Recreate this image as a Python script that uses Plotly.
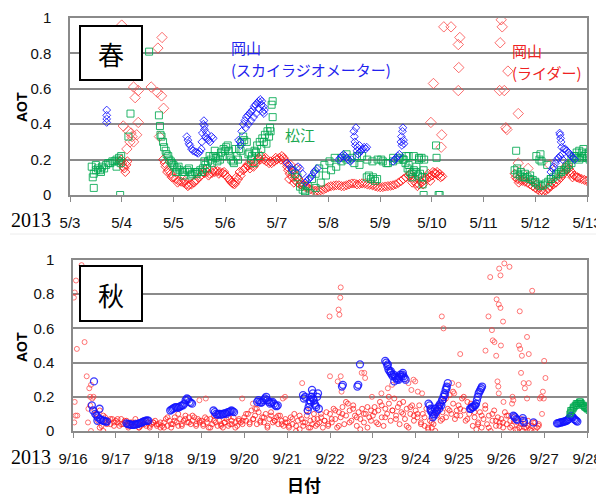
import plotly.graph_objects as go

# page body has an 8px margin, so the figure is sized to fill the rest of the 604x502 window
OFF = 8
W, H = 604 - OFF, 502 - OFF

# ================= DATA =================
# ---------- Spring 2013 (x = days since 5/3 00:00) ----------
spr_ticktext = ["5/3", "5/4", "5/5", "5/6", "5/7", "5/8", "5/9", "5/10", "5/11", "5/12", "5/13"]
spr_tickvals = list(range(11))

# Okayama lidar (red) - main band, 0.05-day cadence from day 1.80
spr_lidar_main_start = 1.80
spr_lidar_main = [
    0.20, 0.16, 0.14, 0.12, 0.10, 0.09, 0.08, 0.075, 0.07, 0.06,
    0.057, 0.06, 0.07, 0.085, 0.10, 0.115, 0.125, 0.13, 0.12, 0.125,
    0.13, 0.135, 0.13, 0.125, 0.115, 0.10, 0.08, 0.065, 0.07, 0.09,
    0.11, 0.14, 0.155, 0.165, 0.17, 0.16, 0.18, 0.21, 0.22, 0.20,
    0.19, 0.18, 0.18, 0.19, 0.20, 0.21, 0.22, 0.20, 0.16, 0.12,
    0.10, 0.085, 0.07, 0.06, 0.05, 0.045, 0.04, 0.032, 0.028, 0.025,
    0.025, 0.027, 0.03, 0.038, 0.045, 0.05, 0.052, 0.055, 0.055, 0.05,
    0.05, 0.055, 0.06, 0.065, 0.065, 0.06, 0.062, 0.066, 0.065, 0.06,
    0.058, 0.055, 0.05, 0.046, 0.044, 0.045, 0.048, 0.05, 0.052, 0.055,
    0.06, 0.068, 0.078, 0.09, 0.10, 0.11, 0.10, 0.08, 0.065, 0.06,
    0.07, 0.085, 0.09, 0.10, 0.11, 0.125, 0.13, 0.12, 0.105,
]
spr_lidar_a_start = 0.97
spr_lidar_a = [0.19, 0.20, 0.18, 0.16, 0.15, 0.13, 0.17, 0.19]
spr_lidar_b_start = 8.60
spr_lidar_b = [
    0.12, 0.09, 0.085, 0.08, 0.075, 0.07, 0.06, 0.05, 0.04, 0.03,
    0.02, 0.02, 0.025, 0.035, 0.05, 0.06, 0.07, 0.085, 0.10, 0.12,
    0.14, 0.15, 0.13, 0.11, 0.10, 0.095, 0.09, 0.085, 0.08, 0.075,
]
spr_lidar_extra_t = [
    1.83, 1.88, 1.97, 2.08, 2.22, 2.28, 2.42, 2.57, 2.62, 2.68, 2.78, 2.88, 2.98, 3.08,
    3.13, 3.18, 3.22, 3.28, 3.38, 3.43, 3.48, 3.58, 3.63, 3.68, 3.78, 3.88, 3.98, 4.08,
    4.13, 4.18, 4.22, 4.24, 4.27, 4.31, 4.33, 4.36, 4.38, 4.42, 4.47, 4.52, 4.57,
    6.58, 6.62, 6.68, 6.72, 6.78, 6.83, 6.88, 6.93, 6.97, 7.02, 7.08, 7.12, 7.17,
    8.62, 8.68, 8.78, 8.92, 9.02, 9.07, 9.12, 9.27, 9.32, 9.42, 9.52, 9.58, 9.63,
    9.68, 9.72, 9.82,
]
spr_lidar_extra_v = [
    0.18, 0.13, 0.10, 0.07, 0.08, 0.05, 0.08, 0.13, 0.14, 0.11, 0.14, 0.12, 0.13, 0.09,
    0.07, 0.06, 0.10, 0.13, 0.15, 0.17, 0.15, 0.19, 0.20, 0.20, 0.21, 0.19, 0.21, 0.20,
    0.21, 0.18, 0.14, 0.09, 0.17, 0.13, 0.07, 0.11, 0.15, 0.09, 0.07, 0.06, 0.05,
    0.12, 0.07, 0.09, 0.05, 0.08, 0.06, 0.10, 0.12, 0.08, 0.13, 0.12, 0.11, 0.10,
    0.10, 0.07, 0.09, 0.08, 0.06, 0.04, 0.03, 0.05, 0.07, 0.09, 0.12, 0.16, 0.17,
    0.12, 0.10, 0.10,
]
spr_lidar_out_t = [
    1.00, 1.03, 1.10, 1.13, 1.16, 1.20, 1.23, 1.23, 1.26, 1.29, 1.32, 1.32, 1.18,
    1.57, 1.69, 1.77, 1.81, 1.70, 1.78, 1.73,
    6.98, 7.03, 7.19, 7.18, 7.23, 7.37, 7.54, 7.51, 7.52, 7.51,
    8.34, 8.36, 8.32, 8.47, 8.31, 8.40, 8.43, 8.45, 8.67, 8.67, 8.86, 9.28,
]
spr_lidar_out_v = [
    0.96, 0.39, 0.26, 0.36, 0.30, 0.33, 0.61, 0.30, 0.55, 0.34, 0.59, 0.41, 0.35,
    0.61, 0.58, 0.56, 0.49, 0.83, 0.89, 0.33,
    0.41, 0.63, 0.34, 0.27, 0.95, 0.95, 0.89, 0.85, 0.72, 0.59,
    0.99, 0.95, 0.86, 0.70, 0.59, 0.59, 0.38, 0.37, 0.46, 0.18, 0.15, 0.17,
]

# Matsue (green)
spr_mat_a_start = 0.42
spr_mat_a = [0.16, 0.12, 0.14, 0.15, 0.14, 0.16, 0.15, 0.17, 0.18, 0.18, 0.19, 0.19, 0.20, 0.19, 0.18]
spr_mat_b_start = 1.72
spr_mat_b = [
    0.45, 0.33, 0.27, 0.23, 0.20, 0.18, 0.16, 0.15, 0.14, 0.13,
    0.13, 0.14, 0.13, 0.12, 0.13, 0.13, 0.14, 0.15, 0.17, 0.19,
    0.20, 0.22, 0.21, 0.22, 0.24, 0.26, 0.27, 0.25, 0.20, 0.18,
    0.22, 0.26, 0.30, 0.31, 0.30, 0.24, 0.22, 0.25, 0.28, 0.30,
    0.32, 0.34, 0.36, 0.38, 0.44,
]
spr_mat_c_start = 4.45
spr_mat_c = [
    0.047, 0.02, 0.01, 0.04, 0.07, 0.11, 0.14, 0.16, 0.19, 0.20,
    0.21, 0.22, 0.22, 0.20, 0.19, 0.20, 0.19, 0.18, 0.19, 0.20,
    0.20, 0.22, 0.22, 0.21, 0.20,
]  # 0.1-day cadence
spr_mat_d_start = 6.45
spr_mat_d = [0.20, 0.18, 0.15, 0.13, 0.12, 0.14, 0.13, 0.11, 0.12, 0.10]
spr_mat_e_start = 8.60
spr_mat_e = [
    0.14, 0.12, 0.11, 0.10, 0.10, 0.10, 0.09, 0.085, 0.075, 0.06,
    0.05, 0.055, 0.065, 0.075, 0.09, 0.10, 0.11, 0.12, 0.13, 0.14,
    0.15, 0.17, 0.20, 0.22, 0.21, 0.20, 0.21, 0.22, 0.21, 0.20,
]
spr_mat_extra_t = [
    0.44, 0.46, 0.50, 0.60, 0.90, 0.95, 0.97, 0.99, 1.13, 1.17, 1.53,
    1.74, 1.75, 1.80, 1.85, 1.90, 1.95, 2.00, 2.05, 2.10, 2.20, 2.30, 2.35, 2.45, 2.55,
    2.60, 2.65, 2.70, 2.75, 2.80, 2.85, 2.90, 2.95, 3.00, 3.05, 3.10, 3.15, 3.20, 3.25,
    3.30, 3.35, 3.45, 3.50, 3.55, 3.60, 3.65, 3.70, 3.75, 3.80, 3.85, 3.90, 3.92, 3.88,
    4.30, 4.35, 4.40, 4.50, 4.55, 4.60, 4.68, 4.75, 4.82, 4.92, 5.02, 5.12, 5.25, 5.35,
    5.50, 5.60, 5.74, 5.78, 5.82, 5.86, 5.90, 5.94, 6.02, 6.12, 6.25, 6.38,
    6.50, 6.55, 6.62, 6.70, 6.75, 6.80, 6.84, 6.82, 6.84, 7.08, 7.09, 7.13, 7.15,
    8.63, 8.65, 8.72, 8.80, 8.90, 9.00, 9.02, 9.08, 9.10, 9.12, 9.23, 9.30, 9.40, 9.50,
    9.60, 9.70, 9.78, 9.80, 9.85, 9.90, 9.93, 9.97, 10.03,
]
spr_mat_extra_v = [
    0.10, 0.04, 0.17, 0.13, 0.16, 0.21, 0.00, 0.22, 0.33, 0.46, 0.81,
    0.39, 0.34, 0.30, 0.25, 0.22, 0.19, 0.17, 0.13, 0.16, 0.11, 0.15, 0.11, 0.12, 0.13,
    0.19, 0.15, 0.22, 0.18, 0.25, 0.19, 0.20, 0.22, 0.25, 0.28, 0.22, 0.19, 0.26, 0.20,
    0.25, 0.33, 0.23, 0.20, 0.18, 0.24, 0.22, 0.26, 0.30, 0.29, 0.33, 0.51, 0.53, 0.36,
    0.14, 0.12, 0.10, 0.03, 0.02, 0.05, 0.09, 0.12, 0.15, 0.17, 0.19, 0.21, 0.21, 0.23,
    0.18, 0.17, 0.10, 0.11, 0.09, 0.10, 0.08, 0.09, 0.20, 0.18, 0.21, 0.21,
    0.22, 0.17, 0.10, 0.16, 0.20, 0.21, 0.00, 0.06, 0.14, 0.28, 0.21, 0.00, 0.00,
    0.25, 0.15, 0.13, 0.12, 0.11, 0.07, 0.22, 0.20, 0.23, 0.19, 0.17, 0.09, 0.12, 0.14,
    0.16, 0.18, 0.22, 0.24, 0.25, 0.24, 0.26, 0.23, 0.24,
]

# Okayama sky radiometer (blue)
spr_sky_t = [
    0.71, 0.71, 0.71, 0.71,
    2.26, 2.28, 2.30, 2.32, 2.35, 2.38, 2.42, 2.45, 2.48, 2.51, 2.54, 2.56, 2.58, 2.59,
    2.60, 2.62, 2.64, 2.66, 2.68, 2.71, 2.74, 2.77, 2.55, 2.60,
    3.26, 3.29, 3.32, 3.35, 3.38, 3.41, 3.44, 3.47, 3.50, 3.53, 3.56, 3.59, 3.62, 3.65,
    3.68, 3.71, 3.74, 3.30, 3.40, 3.45, 3.50, 3.55, 3.60, 3.65, 3.70, 3.73, 3.75, 3.76,
    4.20, 4.23, 4.28, 4.30, 4.41, 4.45, 4.50, 4.55, 4.58, 4.62, 4.65, 4.68, 4.72, 4.75, 4.78,
    5.20, 5.23, 5.26, 5.29, 5.32, 5.35, 5.38, 5.42, 5.45, 5.49, 5.50, 5.51, 5.52, 5.53,
    5.55, 5.57, 5.60, 5.63, 5.66, 5.69, 5.72, 5.74, 5.56, 5.60,
    6.25, 6.28, 6.31, 6.34, 6.37, 6.40, 6.41, 6.42, 6.43, 6.44, 6.45, 6.46,
    9.30, 9.33, 9.36, 9.39, 9.42, 9.45, 9.47, 9.48, 9.49, 9.50, 9.51, 9.52, 9.55, 9.58,
    9.61, 9.64, 9.67, 9.70, 9.73, 9.76, 9.48, 9.53,
]
spr_sky_v = [
    0.48, 0.45, 0.43, 0.41,
    0.33, 0.31, 0.29, 0.28, 0.26, 0.25, 0.245, 0.24, 0.235, 0.245, 0.26, 0.35, 0.40, 0.42,
    0.37, 0.33, 0.35, 0.32, 0.31, 0.30, 0.33, 0.32, 0.30, 0.39,
    0.31, 0.30, 0.36, 0.40, 0.42, 0.44, 0.45, 0.46, 0.47, 0.48, 0.50, 0.51, 0.52, 0.53,
    0.54, 0.53, 0.50, 0.28, 0.38, 0.40, 0.42, 0.44, 0.46, 0.49, 0.51, 0.47, 0.46, 0.48,
    0.18, 0.17, 0.15, 0.14, 0.16, 0.15, 0.12, 0.07, 0.08, 0.09, 0.10, 0.11, 0.13, 0.14, 0.15,
    0.20, 0.21, 0.22, 0.23, 0.22, 0.21, 0.20, 0.19, 0.20, 0.36, 0.33, 0.30, 0.28, 0.38,
    0.25, 0.23, 0.24, 0.25, 0.26, 0.27, 0.26, 0.27, 0.27, 0.28,
    0.19, 0.20, 0.21, 0.22, 0.23, 0.30, 0.33, 0.28, 0.36, 0.38, 0.31, 0.29,
    0.13, 0.15, 0.16, 0.18, 0.20, 0.21, 0.35, 0.34, 0.32, 0.30, 0.27, 0.23, 0.26, 0.26,
    0.25, 0.24, 0.23, 0.22, 0.21, 0.20, 0.22, 0.20,
]

# ---------- Autumn 2013 (x = days since 9/16 00:00) ----------
aut_ticktext = ["9/16", "9/17", "9/18", "9/19", "9/20", "9/21", "9/22", "9/23",
                "9/24", "9/25", "9/26", "9/27", "9/28"]
aut_tickvals = list(range(13))

# Okayama lidar (red), hourly from 9/16 12:00
aut_lidar_h_start = 0.5
aut_lidar_h = [
    0.12, 0.10, 0.06, 0.12, 0.03, 0.00, 0.08, 0.05, 0.06, 0.04, 0.07, 0.05,
    0.06, 0.05, 0.03, 0.07, 0.04, 0.05, 0.06, 0.02, 0.05, 0.04, 0.03, 0.05,
    0.04, 0.02, 0.03, 0.06, 0.04, 0.03, 0.05, 0.02, 0.04, 0.05, 0.06, 0.03,
    0.04, 0.02, 0.03, 0.05, 0.07, 0.03, 0.06, 0.02, 0.04, 0.08, 0.05, 0.03,
    0.07, 0.04, 0.06, 0.09, 0.05, 0.08, 0.04, 0.06, 0.08, 0.03, 0.07, 0.05,
    0.06, 0.03, 0.08, 0.05, 0.02, 0.07, 0.04, 0.09, 0.05, 0.03, 0.06, 0.04,
    0.02, 0.05, 0.07, 0.03, 0.04, 0.06, 0.08, 0.05, 0.03, 0.07, 0.05, 0.06,
    0.08, 0.06, 0.10, 0.05, 0.12, 0.07, 0.09, 0.04, 0.11, 0.06, 0.08, 0.05,
    0.10, 0.03, 0.07, 0.09, 0.05, 0.06, 0.08, 0.04, 0.09, 0.06, 0.03, 0.07,
    0.05, 0.02, 0.08, 0.04, 0.10, 0.03, 0.06, 0.01, 0.07, 0.03, 0.05, 0.09,
    0.02, 0.06, 0.04, 0.10, 0.03, 0.07, 0.05, 0.08, 0.02, 0.06, 0.11, 0.04,
    0.10, 0.05, 0.13, 0.07, 0.02, 0.11, 0.08, 0.14, 0.04, 0.09, 0.16, 0.12,
    0.06, 0.15, 0.09, 0.03, 0.11, 0.07, 0.13, 0.05, 0.10, 0.02, 0.08, 0.12,
    0.09, 0.14, 0.05, 0.12, 0.17, 0.08, 0.03, 0.13, 0.10, 0.16, 0.06, 0.12,
    0.19, 0.09, 0.14, 0.04, 0.11, 0.17, 0.07, 0.13, 0.02, 0.10, 0.15, 0.06,
    0.12, 0.08, 0.15, 0.05, 0.10, 0.03, 0.13, 0.01, 0.06, 0.02, 0.04, 0.00,
    0.09, 0.14, 0.06, 0.11, 0.18, 0.08, 0.13, 0.21, 0.10, 0.16, 0.07, 0.12,
    0.15, 0.09, 0.19, 0.12, 0.06, 0.17, 0.10, 0.14, 0.03, 0.08, 0.01, 0.05,
    0.11, 0.02, 0.07, 0.13, 0.04, 0.09, 0.00, 0.06, 0.12, 0.03, 0.08, 0.05,
    0.07, 0.02, 0.11, 0.04, 0.09, 0.06, 0.03, 0.08, 0.01, 0.05, 0.02, 0.07,
    0.00, 0.04, 0.02, 0.06, 0.01, 0.03, 0.05, 0.00, 0.02, 0.04,
]
# second set, 2-hourly from day 0.54
aut_lidar_b_start = 0.54
aut_lidar_b = [
    0.10, 0.02, 0.09, 0.04, 0.07, 0.03,
    0.07, 0.04, 0.06, 0.03, 0.05, 0.07, 0.02, 0.04, 0.06, 0.03, 0.05, 0.04,
    0.05, 0.02, 0.08, 0.04, 0.06, 0.10, 0.03, 0.07, 0.05, 0.09, 0.04, 0.06,
    0.04, 0.07, 0.02, 0.06, 0.09, 0.03, 0.05, 0.08, 0.04, 0.02, 0.06, 0.04,
    0.10, 0.04, 0.07, 0.13, 0.05, 0.08, 0.02, 0.11, 0.06, 0.09, 0.04, 0.05,
    0.03, 0.07, 0.00, 0.09, 0.05, 0.12, 0.02, 0.07, 0.04, 0.10, 0.06, 0.03,
    0.07, 0.12, 0.03, 0.10, 0.17, 0.05, 0.13, 0.08, 0.01, 0.10, 0.14, 0.06,
    0.11, 0.04, 0.15, 0.08, 0.20, 0.12, 0.07, 0.16, 0.10, 0.03, 0.14, 0.09,
    0.10, 0.04, 0.08, 0.02, 0.05, 0.11, 0.15, 0.07, 0.19, 0.12, 0.23, 0.09,
    0.13, 0.20, 0.07, 0.16, 0.11, 0.04, 0.09, 0.15, 0.02, 0.10, 0.06, 0.03,
    0.05, 0.09, 0.02, 0.06, 0.01, 0.04, 0.02, 0.03, 0.00, 0.05, 0.03,
]
aut_lidar_out_t = [
    0.02, 0.04, 0.07, 0.20, 0.09, 0.27, 0.32, 0.04, 0.06, 0.03, 0.10, 0.38, 0.42, 0.40,
    0.45, 0.48, 0.36, 0.40, 0.35, 0.42, 2.95, 3.10, 3.95, 4.20, 4.25, 4.90, 4.95, 5.35,
    5.99, 6.20, 6.22, 6.24, 6.25, 6.00, 6.25, 6.18, 6.27, 6.74, 6.82, 6.80, 6.98, 7.20,
    7.35, 7.45, 7.83, 7.90, 7.95, 7.99, 8.05, 8.15, 8.61, 8.65, 8.85, 8.90, 9.00, 9.04,
    9.63, 9.70, 9.74, 9.78, 9.80, 9.84, 9.88, 9.89, 9.94, 9.95, 9.98, 9.98, 9.99, 10.04,
    10.07, 10.19, 10.43, 10.41, 10.44, 10.48, 10.46, 10.60, 10.64, 10.72, 11.00, 11.03,
    10.52, 10.64, 10.60, 9.91, 9.94, 10.05, 10.26, 10.25, 10.97, 10.99, 10.90, 10.95,
    9.93, 10.28, 10.55, 10.93,
]
aut_lidar_out_v = [
    0.78, 0.81, 0.88, 0.97, 0.48, 0.52, 0.32, 0.17, 0.09, 0.05, 0.09, 0.25, 0.27, 0.20,
    0.19, 0.20, 0.13, 0.15, 0.05, 0.00, 0.18, 0.19, 0.19, 0.16, 0.13, 0.19, 0.20, 0.28,
    0.67, 0.71, 0.68, 0.78, 0.84, 0.32, 0.32, 0.29, 0.23, 0.34, 0.31, 0.34, 0.20, 0.22,
    0.25, 0.27, 0.28, 0.24, 0.30, 0.29, 0.23, 0.22, 0.67, 0.60, 0.28, 0.22, 0.27, 0.45,
    0.47, 0.67, 0.90, 0.59, 0.53, 0.52, 0.44, 0.77, 0.74, 0.95, 0.72, 0.91, 0.50, 0.64,
    0.98, 0.96, 0.70, 0.50, 0.48, 0.44, 0.34, 0.55, 0.45, 0.82, 0.41, 0.31,
    0.28, 0.28, 0.19, 0.29, 0.22, 0.17, 0.20, 0.16, 0.23, 0.19, 0.19, 0.10,
    0.26, 0.18, 0.25, 0.20,
]

# Okayama sky radiometer (blue)
aut_sky_t = [
    0.44, 0.49, 0.47, 0.52, 0.55, 0.58, 0.62, 0.63, 0.66, 0.70, 0.73, 0.76, 0.79, 0.57,
    1.25, 1.28, 1.31, 1.34, 1.37, 1.40, 1.43, 1.46, 1.49, 1.52, 1.55, 1.58, 1.61, 1.64,
    1.67, 1.70, 1.73, 1.76,
    2.27, 2.30, 2.33, 2.36, 2.39, 2.42, 2.45, 2.48, 2.51, 2.54, 2.57, 2.60, 2.63, 2.66,
    2.69, 2.72, 2.75, 2.78,
    3.28, 3.31, 3.34, 3.37, 3.40, 3.43, 3.46, 3.49, 3.52, 3.55, 3.58, 3.61, 3.64, 3.67,
    3.70, 3.73, 3.76,
    4.30, 4.33, 4.36, 4.39, 4.42, 4.45, 4.48, 4.51, 4.54, 4.57, 4.60, 4.63, 4.66, 4.69,
    4.72, 4.75, 4.78,
    5.37, 5.39, 5.42, 5.48, 5.50, 5.52, 5.53, 5.55, 5.56, 5.58, 5.60, 5.60, 5.62, 5.64,
    5.66, 5.68, 5.70, 5.72, 5.74,
    6.28, 6.30, 6.64, 6.66, 6.70,
    7.29, 7.315, 7.34, 7.365, 7.39, 7.415, 7.44, 7.465, 7.49, 7.515, 7.54, 7.565, 7.59,
    7.615, 7.64, 7.665, 7.69, 7.715, 7.74, 7.765, 7.35, 7.42, 7.50, 7.60, 7.70,
    8.30, 8.325, 8.35, 8.375, 8.40, 8.425, 8.45, 8.475, 8.50, 8.525, 8.55, 8.575, 8.60,
    8.625, 8.65, 8.675, 8.70, 8.725, 8.75, 8.35, 8.40, 8.45, 8.55, 8.62, 8.68, 8.72,
    9.27, 9.29, 9.31, 9.33, 9.35, 9.37, 9.39, 9.41, 9.43, 9.45, 9.47, 9.49, 9.51, 9.53, 9.55,
    10.28, 10.30, 10.32, 10.35, 10.37, 10.50, 10.52, 10.53, 10.75,
    11.30, 11.325, 11.35, 11.375, 11.40, 11.425, 11.45, 11.475, 11.50, 11.525, 11.55,
    11.575, 11.60, 11.625, 11.65, 11.675, 11.70, 11.725, 11.75, 11.775,
]
aut_sky_v = [
    0.15, 0.29, 0.12, 0.10, 0.09, 0.08, 0.13, 0.07, 0.065, 0.06, 0.06, 0.055, 0.055, 0.06,
    0.045, 0.04, 0.04, 0.038, 0.036, 0.036, 0.037, 0.038, 0.04, 0.042, 0.045, 0.048, 0.05,
    0.055, 0.058, 0.06, 0.062, 0.06,
    0.12, 0.125, 0.13, 0.135, 0.14, 0.14, 0.135, 0.14, 0.145, 0.15, 0.15, 0.16, 0.18,
    0.19, 0.185, 0.17, 0.165, 0.16,
    0.12, 0.11, 0.10, 0.095, 0.10, 0.10, 0.095, 0.10, 0.10, 0.105, 0.10, 0.11, 0.11,
    0.115, 0.12, 0.115, 0.11,
    0.17, 0.18, 0.17, 0.165, 0.17, 0.18, 0.19, 0.20, 0.18, 0.17, 0.16, 0.165, 0.17,
    0.16, 0.15, 0.145, 0.15,
    0.21, 0.19, 0.20, 0.12, 0.14, 0.16, 0.18, 0.17, 0.20, 0.24, 0.22, 0.19, 0.18, 0.16,
    0.15, 0.14, 0.20, 0.22, 0.13,
    0.26, 0.27, 0.26, 0.27, 0.39,
    0.41, 0.40, 0.38, 0.36, 0.35, 0.34, 0.33, 0.32, 0.33, 0.32, 0.31, 0.30, 0.31, 0.32,
    0.33, 0.32, 0.33, 0.32, 0.31, 0.30, 0.39, 0.35, 0.29, 0.30, 0.34,
    0.16, 0.15, 0.13, 0.11, 0.10, 0.09, 0.10, 0.11, 0.12, 0.14, 0.15, 0.16, 0.15, 0.18,
    0.20, 0.22, 0.24, 0.26, 0.28, 0.12, 0.08, 0.13, 0.13, 0.18, 0.21, 0.25,
    0.13, 0.13, 0.14, 0.14, 0.14, 0.15, 0.15, 0.16, 0.18, 0.20, 0.22, 0.23, 0.24, 0.25, 0.26,
    0.09, 0.085, 0.08, 0.07, 0.065, 0.075, 0.06, 0.05, 0.05,
    0.045, 0.045, 0.048, 0.05, 0.05, 0.052, 0.055, 0.055, 0.058, 0.06, 0.065, 0.07, 0.08,
    0.09, 0.085, 0.08, 0.07, 0.065, 0.06, 0.055,
]

# Matsue (green)
aut_mat_start = 11.60
aut_mat = [0.10, 0.11, 0.12, 0.13, 0.14, 0.15, 0.15, 0.16, 0.16, 0.17,
           0.16, 0.16, 0.15, 0.15, 0.14, 0.14, 0.13, 0.13, 0.12]
aut_mat_extra_t = [11.62, 11.68, 11.75, 11.85, 11.95, 12.00]
aut_mat_extra_v = [0.12, 0.14, 0.16, 0.17, 0.14, 0.13]

y_tickvals = [0, 0.2, 0.4, 0.6, 0.8, 1.0]
y_ticktext = ["0", "0.2", "0.4", "0.6", "0.8", "1"]


# ================= BUILD =================
def timeline(start, step, n):
    return [round(start + step * i, 4) for i in range(n)]


RED = "rgba(255,20,20,0.85)"
RED_OUT = "rgba(250,60,60,0.75)"
GREEN = "rgba(0,168,80,0.85)"
BLUE = "rgba(20,20,255,0.85)"

spr_red_t = (timeline(spr_lidar_main_start, 0.05, len(spr_lidar_main))
             + timeline(spr_lidar_a_start, 0.02, len(spr_lidar_a))
             + timeline(spr_lidar_b_start, 0.05, len(spr_lidar_b))
             + spr_lidar_extra_t)
spr_red_v = spr_lidar_main + spr_lidar_a + spr_lidar_b + spr_lidar_extra_v

spr_grn_t = (timeline(spr_mat_a_start, 0.04, len(spr_mat_a))
             + timeline(spr_mat_b_start, 0.05, len(spr_mat_b))
             + timeline(spr_mat_c_start, 0.1, len(spr_mat_c))
             + timeline(spr_mat_d_start, 0.04, len(spr_mat_d))
             + timeline(spr_mat_e_start, 0.05, len(spr_mat_e))
             + spr_mat_extra_t)
spr_grn_v = spr_mat_a + spr_mat_b + spr_mat_c + spr_mat_d + spr_mat_e + spr_mat_extra_v

aut_red_t = (timeline(aut_lidar_h_start, 1 / 24, len(aut_lidar_h))
             + timeline(aut_lidar_b_start, 1 / 12, len(aut_lidar_b)))
aut_red_v = aut_lidar_h + aut_lidar_b

aut_grn_t = timeline(aut_mat_start, 0.025, len(aut_mat)) + aut_mat_extra_t
aut_grn_v = aut_mat + aut_mat_extra_v

fig = go.Figure()


def add(x, y, xa, ya, symbol, size, color, width=1):
    fig.add_trace(go.Scatter(
        x=x, y=y, xaxis=xa, yaxis=ya, mode="markers", showlegend=False,
        hoverinfo="skip",
        marker=dict(symbol=symbol, size=size, color=color,
                    line=dict(color=color, width=width)),
    ))


# Spring
add(spr_red_t, spr_red_v, "x", "y", "diamond-open", 7, RED)
add(spr_lidar_out_t, spr_lidar_out_v, "x", "y", "diamond-open", 8, RED_OUT)
add(spr_grn_t, spr_grn_v, "x", "y", "square-open", 7, GREEN)
add(spr_sky_t, spr_sky_v, "x", "y", "diamond-open", 6, BLUE)
# Autumn
add(aut_red_t, aut_red_v, "x2", "y2", "circle-open", 5, "rgba(255,30,30,0.75)")
add(aut_lidar_out_t, aut_lidar_out_v, "x2", "y2", "circle-open", 5, "rgba(255,60,60,0.7)")
add(aut_sky_t, aut_sky_v, "x2", "y2", "circle-open", 7, BLUE, 1.3)
add(aut_grn_t, aut_grn_v, "x2", "y2", "square-open", 6, GREEN)


# window pixel -> paper fraction (figure starts OFF px right/down of the window corner)
def px(x):
    return (x - OFF) / W


def py(y):
    return 1 - (y - OFF) / H


GRID = "#8a8a8a"
TICKFONT = dict(family="Liberation Sans, Arial, sans-serif", size=15, color="#111")

xcommon = dict(showgrid=False, zeroline=False, showline=True, linecolor=GRID, linewidth=1.5,
               mirror=True, ticks="outside", ticklen=5, tickcolor=GRID, tickwidth=1,
               tickfont=TICKFONT, ticklabelstandoff=8, fixedrange=True, automargin=False)
ycommon = dict(range=[0, 1], tickvals=y_tickvals, ticktext=y_ticktext, showgrid=True,
               gridcolor=GRID, gridwidth=1.5, zeroline=False, showline=True, linecolor=GRID,
               linewidth=1.5, mirror=True, ticks="", tickfont=TICKFONT,
               ticklabelstandoff=14, fixedrange=True, automargin=False)

fig.update_layout(
    width=W, height=H, margin=dict(l=0, r=0, t=0, b=0, autoexpand=False),
    paper_bgcolor="white", plot_bgcolor="white",
    xaxis=dict(domain=[px(70), px(587)], range=[0, 10], tickvals=spr_tickvals,
               ticktext=spr_ticktext, anchor="y", **xcommon),
    yaxis=dict(domain=[py(195), py(18)], anchor="x", **ycommon),
    xaxis2=dict(domain=[px(73), px(587)], range=[0, 12], tickvals=aut_tickvals,
                ticktext=aut_ticktext, anchor="y2", **xcommon),
    yaxis2=dict(domain=[py(431), py(260)], anchor="x2", **ycommon),
)

JP = "Noto Sans CJK JP, sans-serif"
ann = []


def text(x, y, s, size, color="#000", family=JP, xanchor="center", angle=0, bold=False):
    if bold:
        s = "<b>" + s + "</b>"
    ann.append(dict(x=px(x), y=py(y), xref="paper", yref="paper", text=s, showarrow=False,
                    xanchor=xanchor, yanchor="middle", textangle=angle,
                    font=dict(family=family, size=size, color=color)))


text(111, 53, "春", 26)
text(111, 294, "秋", 26)
text(229, 48, "岡山", 15, "#2222ee", xanchor="left")
text(229, 70, "(スカイラジオメーター)", 15, "#2222ee", xanchor="left")
text(283, 134, "松江", 15, "#1aa850", xanchor="left")
text(510, 51, "岡山", 15, "#ee2222", xanchor="left")
text(510, 73, "(ライダー)", 15, "#ee2222", xanchor="left")
text(22, 107, "AOT", 14, family="Liberation Sans, Arial, sans-serif", angle=-90, bold=True)
text(22, 347, "AOT", 14, family="Liberation Sans, Arial, sans-serif", angle=-90, bold=True)
text(9, 220, "2013", 20, family="Liberation Serif, Times New Roman, serif", xanchor="left")
text(9, 457, "2013", 20, family="Liberation Serif, Times New Roman, serif", xanchor="left")
text(304, 484, "日付", 17, bold=True)

shapes = [
    dict(type="rect", xref="paper", yref="paper", x0=px(80), x1=px(142), y0=py(80), y1=py(26),
         line=dict(color="black", width=2), fillcolor="white", layer="above"),
    dict(type="rect", xref="paper", yref="paper", x0=px(80), x1=px(142), y0=py(321), y1=py(266),
         line=dict(color="black", width=2), fillcolor="white", layer="above"),
    dict(type="line", xref="paper", yref="paper", x0=px(10), x1=px(600), y0=py(234), y1=py(234),
         line=dict(color="#ececec", width=1)),
    dict(type="line", xref="paper", yref="paper", x0=px(10), x1=px(600), y0=py(469), y1=py(469),
         line=dict(color="#ececec", width=1)),
]
fig.update_layout(annotations=ann, shapes=shapes)

fig.write_html("out.html")
